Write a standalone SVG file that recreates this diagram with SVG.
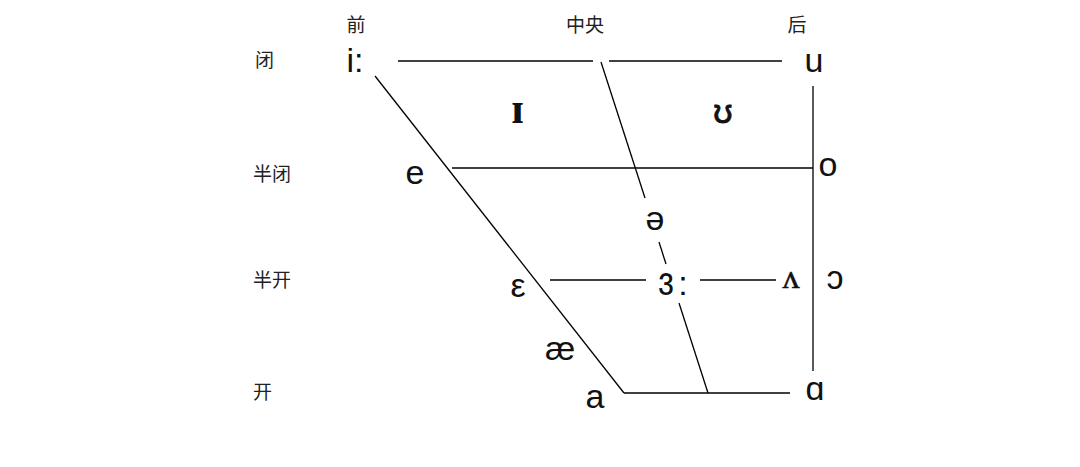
<svg xmlns="http://www.w3.org/2000/svg" width="1080" height="467" viewBox="0 0 1080 467">
<style>
.ln{stroke:#000;stroke-width:1.3;fill:none}
.zh{font-family:"Noto Sans CJK SC","Noto Sans",sans-serif;font-size:19px;fill:#222;dominant-baseline:central}
.ph{font-family:"Liberation Sans","DejaVu Sans",sans-serif;font-size:34px;fill:#111;text-anchor:middle}
.sb{font-family:"Liberation Serif","DejaVu Serif",serif;font-weight:bold}
.sr{font-family:"Liberation Serif","DejaVu Serif",serif}
</style>
<rect width="1080" height="467" fill="#fff"/>
<g id="connectors">
<line class="ln" x1="398" y1="61" x2="593" y2="61"/>
<line class="ln" x1="609" y1="61" x2="782" y2="61"/>
<line class="ln" x1="375" y1="76" x2="624" y2="393"/>
<line class="ln" x1="601" y1="62" x2="645" y2="198"/>
<line class="ln" x1="659" y1="242" x2="666" y2="264"/>
<line class="ln" x1="679" y1="303" x2="708" y2="393"/>
<line class="ln" x1="452" y1="168" x2="813" y2="168"/>
<line class="ln" x1="550" y1="280" x2="646" y2="280"/>
<line class="ln" x1="700" y1="280" x2="776" y2="280"/>
<line class="ln" x1="624" y1="393" x2="790" y2="393"/>
<line class="ln" x1="813" y1="86" x2="813" y2="371"/>
</g>
<g id="label-front"><text class="zh" x="356" y="23" text-anchor="middle">前</text></g>
<g id="label-central"><text class="zh" x="585" y="23" text-anchor="middle">中央</text></g>
<g id="label-back"><text class="zh" x="797" y="23" text-anchor="middle">后</text></g>
<g id="label-close"><text class="zh" x="255" y="58">闭</text></g>
<g id="label-closemid"><text class="zh" x="253" y="172">半闭</text></g>
<g id="label-openmid"><text class="zh" x="253" y="278">半开</text></g>
<g id="label-open"><text class="zh" x="253" y="390">开</text></g>
<g id="v-i"><text class="ph" x="355" y="72">i:</text></g>
<g id="v-u"><text class="ph" x="814" y="72">u</text></g>
<g id="v-I"><text class="ph sb" x="517.5" y="123" style="font-size:44px">ɪ</text></g>
<g id="v-U"><text class="ph" x="723" y="123" stroke="#111" stroke-width="0.8">ʊ</text></g>
<g id="v-e"><text class="ph" x="415" y="184">e</text></g>
<g id="v-o"><text class="ph" x="828" y="176">o</text></g>
<g id="v-schwa"><text class="ph" x="655" y="230">ə</text></g>
<g id="v-eps"><text class="ph" x="518" y="297">ε</text></g>
<g id="v-er"><text class="ph" transform="translate(666,295) scale(1,1.22)">ɜ</text><text class="ph" x="683" y="295">:</text></g>
<g id="v-wedge"><text class="ph sr" x="791" y="288" stroke="#111" stroke-width="0.5">ʌ</text></g>
<g id="v-openo"><text class="ph" x="835" y="289">ɔ</text></g>
<g id="v-ae"><text class="ph" x="560" y="360">æ</text></g>
<g id="v-a"><text class="ph" x="595" y="408">a</text></g>
<g id="v-alpha"><text class="ph" x="815" y="400">ɑ</text></g>
</svg>
